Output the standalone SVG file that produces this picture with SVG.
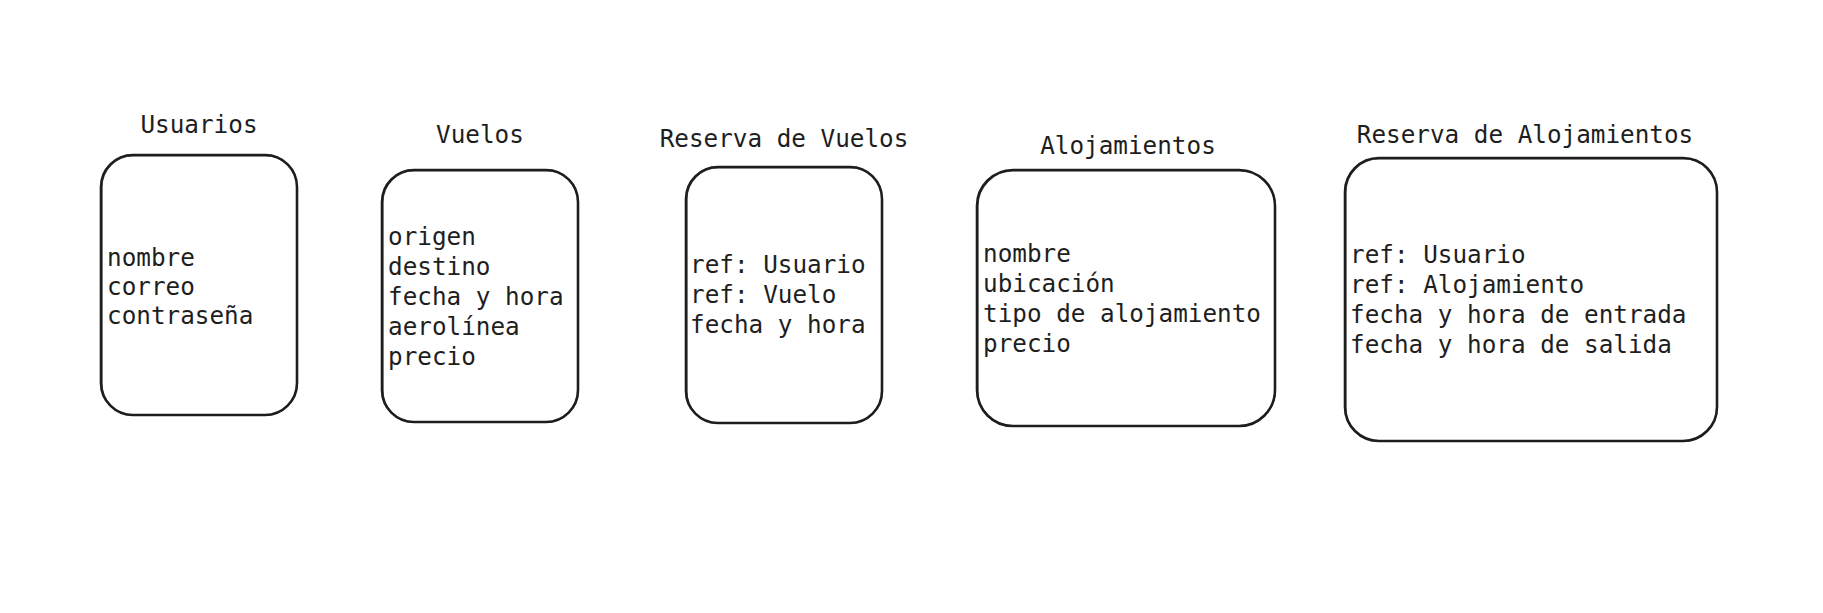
<svg xmlns="http://www.w3.org/2000/svg" width="1823" height="613" viewBox="0 0 1823 613">
<style>
.box{fill:#ffffff;stroke:#1e1e1e;stroke-width:2.6;stroke-linejoin:round}
.sk{fill:none;stroke:#1e1e1e;stroke-width:1.2;opacity:0.7}
text{font-family:"DejaVu Sans Mono","Liberation Mono",monospace;font-size:24.3px;fill:#1e1e1e}
.title{text-anchor:middle}
</style>
<rect width="1823" height="613" fill="#ffffff"/>
<g id="usuarios">
<rect class="box" x="101" y="155" width="196" height="260" rx="32"/>
<rect class="sk" x="102" y="156" width="195" height="259" rx="31"/>
<text class="title" x="199" y="133">Usuarios</text>
<text x="107" y="266">nombre</text>
<text x="107" y="295">correo</text>
<text x="107" y="324">contraseña</text>
</g>
<g id="vuelos">
<rect class="box" x="382" y="170" width="196" height="252" rx="32"/>
<rect class="sk" x="383" y="171" width="195" height="251" rx="31"/>
<text class="title" x="480" y="143">Vuelos</text>
<text x="388" y="245">origen</text>
<text x="388" y="275">destino</text>
<text x="388" y="305">fecha y hora</text>
<text x="388" y="335">aerolínea</text>
<text x="388" y="365">precio</text>
</g>
<g id="reserva-vuelos">
<rect class="box" x="686" y="167" width="196" height="256" rx="32"/>
<rect class="sk" x="687" y="168" width="195" height="255" rx="31"/>
<text class="title" x="784" y="147">Reserva de Vuelos</text>
<text x="690" y="273">ref: Usuario</text>
<text x="690" y="303">ref: Vuelo</text>
<text x="690" y="333">fecha y hora</text>
</g>
<g id="alojamientos">
<rect class="box" x="977" y="170" width="298" height="256" rx="36"/>
<rect class="sk" x="978" y="171" width="297" height="255" rx="35"/>
<text class="title" x="1128" y="154">Alojamientos</text>
<text x="983" y="262">nombre</text>
<text x="983" y="292">ubicación</text>
<text x="983" y="322">tipo de alojamiento</text>
<text x="983" y="352">precio</text>
</g>
<g id="reserva-alojamientos">
<rect class="box" x="1345" y="158" width="372" height="283" rx="34"/>
<rect class="sk" x="1346" y="159" width="371" height="282" rx="33"/>
<text class="title" x="1525" y="143">Reserva de Alojamientos</text>
<text x="1350" y="263">ref: Usuario</text>
<text x="1350" y="293">ref: Alojamiento</text>
<text x="1350" y="323">fecha y hora de entrada</text>
<text x="1350" y="353">fecha y hora de salida</text>
</g>
<g id="connectors"></g>
</svg>
